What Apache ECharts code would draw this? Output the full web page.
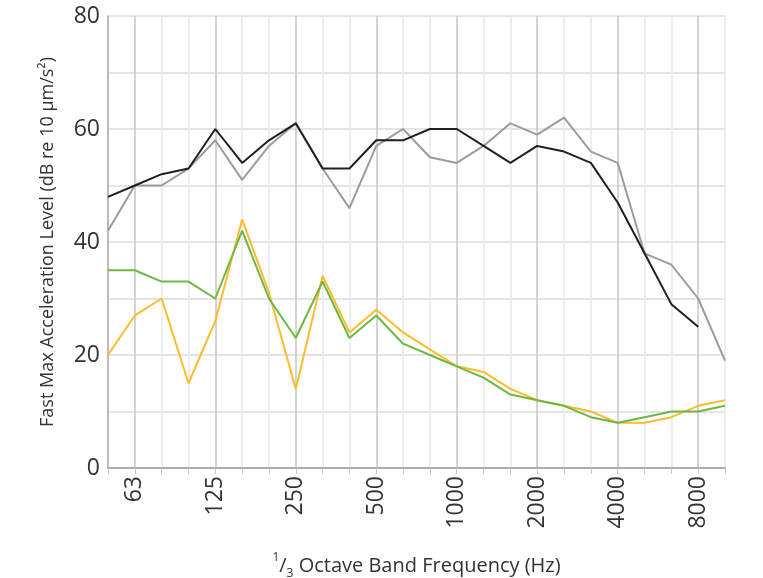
<!DOCTYPE html>
<html><head><meta charset="utf-8">
<script src="https://cdn.jsdelivr.net/npm/echarts@6/dist/echarts.min.js"></script>
<style>html,body{margin:0;padding:0;background:#fff}#c{width:763px;height:578px}</style>
</head><body><div id="c"></div>
<script>
const bands = ['50','63','80','100','125','160','200','250','315','400','500','630','800','1000','1250','1600','2000','2500','3150','4000','5000','6300','8000','10000'];
const tickLabels = ['63','125','250','500','1000','2000','4000','8000'];
const blackSeries = [48,50,52,53,60,54,58,61,53,53,58,58,60,60,57,54,57,56,54,47,38,29,25,null];
const graySeries  = [42,50,50,53,58,51,57,61,53,46,57,60,55,54,57,61,59,62,56,54,38,36,30,19];
const yellowSeries= [20,27,30,15,26,44,31,14,34,24,28,24,21,18,17,14,12,11,10,8,8,9,11,12];
const greenSeries = [35,35,33,33,30,42,30,23,33,23,27,22,20,18,16,13,12,11,9,8,9,10,10,11];
const yTickLabels = [0,20,40,60,80];

const font = '"Open Sans", "Noto Sans", sans-serif';
const chart = echarts.init(document.getElementById('c'), null, {renderer:'canvas'});
function mk(name, data, color){
  return {name, type:'line', data, symbol:'none', lineStyle:{color, width:2}, itemStyle:{color}, connectNulls:false, animation:false};
}
chart.setOption({
  animation:false,
  grid:{left:108, right:38, top:16, bottom:110, containLabel:false, outerBoundsMode:'none'},
  xAxis:{
    type:'category', data:bands, boundaryGap:false,
    axisLine:{lineStyle:{color:'#9a9a9a', width:1.5}},
    axisTick:{show:true, interval:0, length:6, lineStyle:{color:'#c8c8c8'}},
    axisLabel:{
      interval:0, rotate:90, fontFamily:font, fontSize:23, color:'#333', margin:8,
      formatter:v => tickLabels.includes(v) ? v : ''
    },
    splitLine:{show:true, interval:0, lineStyle:{color:['#e8e8e8','#c6c6c6','#e8e8e8'], width:1.5}},
    name:'{sup|1}{n|/}{sub|3}{n| Octave Band Frequency (Hz)}',
    nameLocation:'middle', nameGap:84,
    nameTextStyle:{
      fontFamily:font, fontSize:20, color:'#333',
      rich:{
        n:{fontFamily:font, fontSize:20, color:'#333', lineHeight:28, verticalAlign:'middle'},
        sup:{fontFamily:font, fontSize:12, color:'#333', lineHeight:28, verticalAlign:'top'},
        sub:{fontFamily:font, fontSize:12, color:'#333', lineHeight:28, verticalAlign:'bottom'}
      }
    }
  },
  yAxis:{
    type:'value', min:0, max:80, interval:10,
    axisLine:{show:true, lineStyle:{color:'#aaaaaa', width:1.5}},
    axisTick:{show:false},
    axisLabel:{fontFamily:font, fontSize:23, color:'#333', margin:8,
      formatter:v => yTickLabels.includes(v) ? String(v) : ''},
    splitLine:{show:true, lineStyle:{color:'#dcdcdc', width:1.5}},
    name:'Fast Max Acceleration Level (dB re 10 µm/s²)',
    nameLocation:'middle', nameGap:51,
    nameTextStyle:{fontFamily:font, fontSize:18, color:'#333'}
  },
  series:[
    mk('gray', graySeries, '#9c9c9c'),
    mk('black', blackSeries, '#231f20'),
    mk('yellow', yellowSeries, '#fdbb2d'),
    mk('green', greenSeries, '#6cb843')
  ]
});
</script></body></html>
